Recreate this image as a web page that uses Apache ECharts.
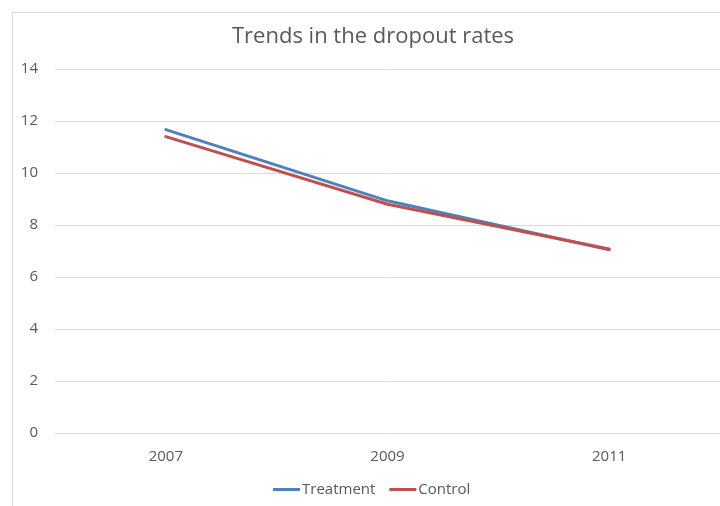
<!DOCTYPE html>
<html>
<head>
<meta charset="utf-8">
<script src="https://cdn.jsdelivr.net/npm/echarts@6/dist/echarts.min.js"></script>
<style>
  html, body { margin: 0; padding: 0; background: #ffffff; }
  #chart { width: 720px; height: 506px; }
</style>
</head>
<body>
<div id="chart"></div>
<script>
// Dropout rates by survey year
const years = ['2007', '2009', '2011'];
const treatment = [11.67, 8.93, 7.05];
const control = [11.4, 8.8, 7.08];
const yTicks = { min: 0, max: 14, interval: 2 };

const textColor = '#595959';
const font = '"Open Sans", "Liberation Sans", sans-serif';

const chart = echarts.init(document.getElementById('chart'), null, { renderer: 'canvas' });
chart.setOption({
  animation: false,
  backgroundColor: '#ffffff',
  title: {
    text: 'Trends in the dropout rates',
    left: 227,
    top: 21,
    textStyle: { color: textColor, fontFamily: font, fontSize: 22, fontWeight: 'normal' }
  },
  // chart frame (extends past the right and bottom edges)
  graphic: [{
    type: 'rect',
    shape: { x: 12.5, y: 12.5, width: 730, height: 520 },
    style: { fill: 'none', stroke: '#d9d9d9', lineWidth: 1 },
    silent: true
  }],
  legend: {
    bottom: 4,
    left: 268,
    itemWidth: 27,
    itemHeight: 3,
    itemGap: 14,
    icon: 'rect',
    textStyle: { color: textColor, fontFamily: font, fontSize: 15, padding: [0, 0, 0, -3] },
    data: ['Treatment', 'Control']
  },
  grid: { left: 55, right: 0, top: 69, bottom: 73, containLabel: false },
  xAxis: {
    type: 'category',
    data: years,
    boundaryGap: true,
    axisLine: { show: true, lineStyle: { color: '#d9d9d9' } },
    axisTick: { show: false },
    axisLabel: { color: textColor, fontFamily: font, fontSize: 15, margin: 16 }
  },
  yAxis: {
    type: 'value',
    min: yTicks.min,
    max: yTicks.max,
    interval: yTicks.interval,
    axisLine: { show: false },
    axisTick: { show: false },
    splitLine: { lineStyle: { color: '#d9d9d9' } },
    axisLabel: { color: textColor, fontFamily: font, fontSize: 15, margin: 17 }
  },
  series: [
    {
      name: 'Treatment',
      type: 'line',
      data: treatment,
      symbol: 'none',
      itemStyle: { color: '#4F81BD' },
      lineStyle: { color: '#4F81BD', width: 3, cap: 'round' },
      z: 2
    },
    {
      name: 'Control',
      type: 'line',
      data: control,
      symbol: 'none',
      itemStyle: { color: '#C0504D' },
      lineStyle: { color: '#C0504D', width: 3, cap: 'round' },
      z: 3
    }
  ]
});
</script>
</body>
</html>
